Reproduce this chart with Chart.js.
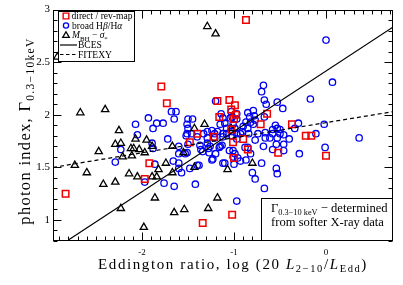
<!DOCTYPE html>
<html><head><meta charset="utf-8">
<script src="https://cdn.jsdelivr.net/npm/chart.js@4/dist/chart.umd.min.js"></script>
<style>html,body{margin:0;padding:0;background:#fff;}</style>
</head><body>
<canvas id="c" width="403" height="285"></canvas>
<script>
// ---- data ----
const directX = [-0.87,-1.79,-1.73,-1.18,-1.05,-0.99,-1.03,-0.98,-1.16,-1.00,-1.03,-1.40,-0.64,-0.71,-0.37,-0.22,-0.16,-1.22,-1.01,-1.48,-0.90,-0.85,-1.00,-0.52,0.00,-1.02,-1.34,-1.92,-1.97,-2.83];
const directY = [2.90,2.27,2.11,2.13,2.14,2.09,2.05,2.00,1.98,1.96,1.86,1.82,2.01,1.91,1.91,1.80,1.80,1.79,1.74,1.74,1.77,1.67,1.59,1.64,1.61,1.05,0.97,1.54,1.39,1.25];

const broadX = [-2.07,-1.93,-2.05,-2.23,-2.29,-1.89,-1.97,-1.88,-1.84,-1.77,
-1.68,-1.63,-1.65,-1.50,-1.45,-1.51,-1.50,-1.51,-1.72,-1.88,
-1.60,-1.52,-1.46,-1.50,-1.60,-1.53,-1.66,-1.60,-1.86,-1.57,
-1.76,-1.65,-1.42,-1.40,-1.38,-1.37,-1.36,-1.29,-1.26,-1.23,
-1.15,-1.13,-1.12,-1.05,-1.01,-1.00,-0.97,-1.29,-1.24,-1.18,
-1.29,-1.21,-1.15,-1.10,-1.12,-1.04,-1.20,-1.14,-1.08,-1.12,
-0.99,-0.97,-1.21,-1.33,-1.40,-1.12,-1.08,-1.02,-1.28,-1.16,
-1.51,-1.34,-1.27,-1.20,-1.01,-1.24,-1.10,-1.60,-1.48,
-0.68,-0.70,-0.67,-0.17,-0.65,-0.53,-0.47,-0.79,-0.85,-0.83,
-0.78,-0.67,-0.97,-1.03,-1.02,-0.97,-0.87,-0.82,-0.77,-0.79,
-0.85,-0.90,-0.91,-1.01,-1.02,-0.55,-0.53,-0.58,-0.50,-0.66,
-0.74,-0.84,-0.93,-0.30,-0.34,-0.02,-0.11,-0.58,-0.50,0.00,
0.07,-0.97,-0.77,-0.66,-0.61,-0.53,-0.46,-0.40,-0.54,-0.46,
-0.88,-0.85,-0.68,-0.58,-0.46,-0.29,-0.01,-0.99,-0.96,-0.93,
-0.87,-0.82,-0.70,-0.54,-0.53,-0.80,-0.77,-0.67,0.36];
const broadY = [1.91,1.97,1.81,1.67,1.55,1.73,1.36,1.87,1.92,1.92,
2.03,2.03,1.96,1.96,1.96,1.91,1.87,1.82,1.77,1.68,
1.70,1.80,1.82,1.72,1.63,1.63,1.56,1.54,1.53,1.45,
1.35,1.32,1.34,1.52,1.52,1.71,1.67,1.73,1.70,1.58,
1.70,1.71,1.54,1.66,1.66,1.53,1.18,1.84,1.85,1.84,
1.78,1.78,1.91,1.92,1.97,1.97,2.13,2.01,1.87,1.82,
1.87,1.82,1.82,1.82,1.79,1.79,1.82,1.80,1.68,1.69,
1.64,1.65,1.64,1.63,1.60,1.57,1.54,1.49,1.49,
2.28,2.22,2.14,2.15,2.10,2.12,2.06,2.04,2.02,1.98,
1.99,1.98,2.01,2.03,1.98,1.96,1.93,1.93,1.95,1.91,
1.87,1.89,1.84,1.91,1.84,1.90,1.87,1.86,1.86,1.83,
1.82,1.82,1.82,1.92,1.87,1.91,1.82,1.82,1.82,2.71,
2.31,1.77,1.76,1.78,1.78,1.78,1.81,1.77,1.72,1.72,
1.69,1.69,1.70,1.67,1.66,1.63,1.69,1.63,1.59,1.56,
1.57,1.63,1.54,1.49,1.44,1.45,1.39,1.30,1.78];

const msigX = [-2.92,-1.29,-1.20,-2.67,-2.40,-2.25,-2.29,-2.23,-2.47,-2.07,-2.12,-2.09,-2.03,-1.95,-1.97,-2.21,-2.11,-2.73,-2.60,-2.14,-2.05,-1.89,-1.84,-1.82,-1.74,-1.67,-1.67,-1.55,-1.43,-1.43,-1.32,-2.42,-2.29,-1.86,-2.23,-1.65,-1.54,-1.28,-1.18,-1.07,-1.98,-1.89,-1.03,-0.80];
const msigY = [2.55,2.84,2.77,2.02,2.05,1.85,1.72,1.73,1.65,1.77,1.68,1.68,1.67,1.76,1.64,1.60,1.61,1.52,1.45,1.44,1.41,1.41,1.41,1.48,1.54,1.45,1.70,1.64,1.50,1.87,1.91,1.34,1.36,1.21,1.11,1.07,1.10,1.11,1.21,1.48,0.93,1.70,1.87,1.54];

const bcesX = [-2.80, 0.73];
const bcesY = [0.81, 2.835];
const fitexyX = [-2.967, 0.73];
const fitexyY = [1.50, 2.03];

const xTickValues = [-2, -1, 0];
const xTickLabels = ['-2', '-1', '0'];
const yTickValues = [1, 1.5, 2, 2.5, 3];
const yTickLabels = ['1', '1.5', '2', '2.5', '3'];

// ---- helpers ----
const FONT = '"Liberation Serif", "DejaVu Serif", serif';
const RED = '#f00000', BLUE = '#0000f0', BLACK = '#000';
const pts = (xs, ys) => xs.map((x, i) => ({x: x, y: ys[i]}));

function fontFor(p, base) { return (p.it ? 'italic ' : '') + (base * (p.s || 1)).toFixed(2) + 'px ' + FONT; }
function richWidth(ctx, parts, base, ls) {
  let w = 0;
  for (const p of parts) {
    ctx.font = fontFor(p, base);
    for (const ch of p.t) w += ctx.measureText(ch).width + (ls || 0);
  }
  return w;
}
function countChars(parts) { let n = 0; for (const p of parts) n += [...p.t].length; return n; }
function drawRich(ctx, parts, x, y, base, align, ls) {
  ls = ls || 0;
  const w = richWidth(ctx, parts, base, ls);
  let cx = align === 'center' ? x - w / 2 : x;
  ctx.textAlign = 'left'; ctx.textBaseline = 'alphabetic'; ctx.fillStyle = BLACK;
  for (const p of parts) {
    ctx.font = fontFor(p, base);
    if (!ls) { ctx.fillText(p.t, cx, y + (p.dy || 0) * base); cx += ctx.measureText(p.t).width; continue; }
    for (const ch of p.t) {
      ctx.fillText(ch, cx, y + (p.dy || 0) * base);
      cx += ctx.measureText(ch).width + ls;
    }
  }
}
function fitSize(ctx, parts, target) { return 10 * target / richWidth(ctx, parts, 10, 0); }
function fitSpacing(ctx, parts, size, target, cap) {
  const w = richWidth(ctx, parts, size, 0);
  return Math.max(0, Math.min(cap || 1.3, (target - w) / countChars(parts)));
}

function marker(ctx, style, x, y, r, color, lw) {
  ctx.save();
  ctx.strokeStyle = color; ctx.lineWidth = lw; ctx.beginPath();
  if (style === 'rect') { const h = r * Math.SQRT1_2; ctx.rect(x - h, y - h, 2 * h, 2 * h); }
  else if (style === 'circle') { ctx.arc(x, y, r, 0, Math.PI * 2); }
  else { for (let k = 0; k < 3; k++) { const a = k * 2 * Math.PI / 3; const px = x + Math.sin(a) * r, py = y - Math.cos(a) * r; k ? ctx.lineTo(px, py) : ctx.moveTo(px, py); } ctx.closePath(); }
  ctx.stroke(); ctx.restore();
}

const framePlugin = {
  id: 'frame',
  afterDraw(chart) {
    const ctx = chart.ctx, ca = chart.chartArea;
    const xs = chart.scales.x, ys = chart.scales.y;
    ctx.save();
    ctx.strokeStyle = BLACK; ctx.lineWidth = 1;
    const L = Math.round(ca.left) + 0.5, R = Math.round(ca.right) - 0.5;
    const T = Math.round(ca.top) + 0.5, B = Math.round(ca.bottom) - 0.5;
    ctx.beginPath();
    for (let i = -29; i <= 7; i++) {
      const px = Math.round(xs.getPixelForValue(i / 10)) + 0.5;
      const len = (i % 10 === 0) ? 8 : 4;
      ctx.moveTo(px, B); ctx.lineTo(px, B - len);
      ctx.moveTo(px, T); ctx.lineTo(px, T + len);
    }
    for (let i = 8; i <= 30; i++) {
      const py = Math.round(ys.getPixelForValue(i / 10)) + 0.5;
      const len = (i % 5 === 0) ? 8 : 4;
      ctx.moveTo(L, py); ctx.lineTo(L + len, py);
      ctx.moveTo(R, py); ctx.lineTo(R - len, py);
    }
    ctx.stroke();
    ctx.strokeRect(L, T, R - L, B - T);

    // legend box
    ctx.fillStyle = '#fff';
    ctx.fillRect(58.5, 11.5, 76, 50);
    ctx.strokeRect(58.5, 11.5, 76, 50);
    const lparts1 = [{t: 'direct / rev-map'}];
    const lb = fitSize(ctx, lparts1, 61);
    const off = lb * 0.33;
    marker(ctx, 'rect', 66, 16, 4, RED, 1.4);
    drawRich(ctx, lparts1, 71.5, 16 + off, lb, 'left');
    marker(ctx, 'circle', 66, 25.5, 2.6, BLUE, 1.3);
    drawRich(ctx, [{t: 'broad H'}, {t: 'β', it: 1}, {t: '/H'}, {t: 'α', it: 1}], 72, 25.5 + off, lb, 'left');
    marker(ctx, 'triangle', 66, 35.5, 3.8, BLACK, 1.3);
    drawRich(ctx, [{t: 'M', it: 1}, {t: 'BH', s: 0.72, dy: 0.25}, {t: ' − '}, {t: 'σ', it: 1}, {t: '*', s: 0.72, dy: 0.3}], 72, 35 + off, lb, 'left');
    ctx.strokeStyle = BLACK; ctx.lineWidth = 1.2;
    ctx.beginPath(); ctx.moveTo(60, 45); ctx.lineTo(77, 45); ctx.stroke();
    drawRich(ctx, [{t: 'BCES'}], 78, 45 + off, lb, 'left');
    ctx.setLineDash([3.5, 2.5]);
    ctx.beginPath(); ctx.moveTo(60, 54.5); ctx.lineTo(77, 54.5); ctx.stroke();
    ctx.setLineDash([]);
    drawRich(ctx, [{t: 'FITEXY'}], 78, 54.5 + off, lb, 'left');

    // note box bottom right
    ctx.fillStyle = '#fff';
    ctx.fillRect(261.5, 198.5, R - 261.5, B - 198.5);
    ctx.lineWidth = 1; ctx.strokeStyle = BLACK;
    ctx.strokeRect(261.5, 198.5, R - 261.5, B - 198.5);
    const n2 = [{t: 'from softer X-ray data'}];
    const nb = fitSize(ctx, n2, 113);
    drawRich(ctx, [{t: 'Γ'}, {t: '0.3−10 keV', s: 0.66, dy: 0.25}, {t: ' − determined'}], 271, 212, nb, 'left');
    drawRich(ctx, n2, 271, 225.5, nb, 'left');

    // axis titles
    const xt = [{t: 'Eddington ratio, log (20 '}, {t: 'L', it: 1}, {t: '2−10', s: 0.7, dy: 0.22}, {t: '/'}, {t: 'L', it: 1}, {t: 'Edd', s: 0.7, dy: 0.22}, {t: ')'}];
    const xSize = 15;
    drawRich(ctx, xt, 233, 269, xSize, 'center', fitSpacing(ctx, xt, xSize, 295, 1.6));
    const yt = [{t: 'photon index, Γ'}, {t: '0.3−10keV', s: 0.7, dy: 0.25}];
    const ySize = 16.5;
    ctx.save();
    ctx.translate(30, 131); ctx.rotate(-Math.PI / 2);
    drawRich(ctx, yt, 0, 0, ySize, 'center', fitSpacing(ctx, yt, ySize, 198));
    ctx.restore();
    ctx.restore();
  }
};

function labelFor(v, vals, labs) {
  for (let i = 0; i < vals.length; i++) if (Math.abs(v - vals[i]) < 1e-6) return labs[i];
  return '';
}

new Chart(document.getElementById('c').getContext('2d'), {
  type: 'scatter',
  data: {
    datasets: [
      {label: 'BCES', data: pts(bcesX, bcesY), showLine: true, borderColor: BLACK, borderWidth: 1.2, pointRadius: 0, fill: false, order: 0},
      {label: 'FITEXY', data: pts(fitexyX, fitexyY), showLine: true, borderColor: BLACK, borderWidth: 1.2, borderDash: [4, 3], pointRadius: 0, fill: false, order: 0},
      {label: 'direct / rev-map', data: pts(directX, directY), pointStyle: 'rect', pointRadius: 4.6, borderColor: RED, backgroundColor: 'rgba(0,0,0,0)', pointBorderWidth: 1.5, order: 1},
      {label: 'M_BH - sigma', data: pts(msigX, msigY), pointStyle: 'triangle', pointRadius: 4.2, borderColor: BLACK, backgroundColor: 'rgba(0,0,0,0)', pointBorderWidth: 1.3, order: 2},
      {label: 'broad Hb/Ha', data: pts(broadX, broadY), pointStyle: 'circle', pointRadius: 3.2, borderColor: BLUE, backgroundColor: 'rgba(0,0,0,0)', pointBorderWidth: 1.3, order: 3}
    ]
  },
  options: {
    responsive: false, animation: false, devicePixelRatio: 1, events: [],
    layout: {padding: {top: 6, right: 10, left: 0, bottom: 0}},
    plugins: {legend: {display: false}, tooltip: {enabled: false}},
    scales: {
      x: {type: 'linear', position: 'bottom', min: -2.967, max: 0.728,
        grid: {display: false, drawTicks: false}, border: {display: false},
        ticks: {stepSize: 1, autoSkip: false, maxRotation: 0, padding: 6, color: BLACK,
          font: {family: FONT, size: 9}, callback: (v) => labelFor(v, xTickValues, xTickLabels)},
        afterFit: (s) => { s.height = 44; }},
      y: {type: 'linear', position: 'left', min: 0.8, max: 3.0,
        grid: {display: false, drawTicks: false}, border: {display: false},
        ticks: {stepSize: 0.5, autoSkip: false, padding: 3, color: BLACK,
          font: {family: FONT, size: 11}, callback: (v) => labelFor(v, yTickValues, yTickLabels)},
        afterFit: (s) => { s.width = 53; }}
    }
  },
  plugins: [framePlugin]
});
</script>
</body></html>
